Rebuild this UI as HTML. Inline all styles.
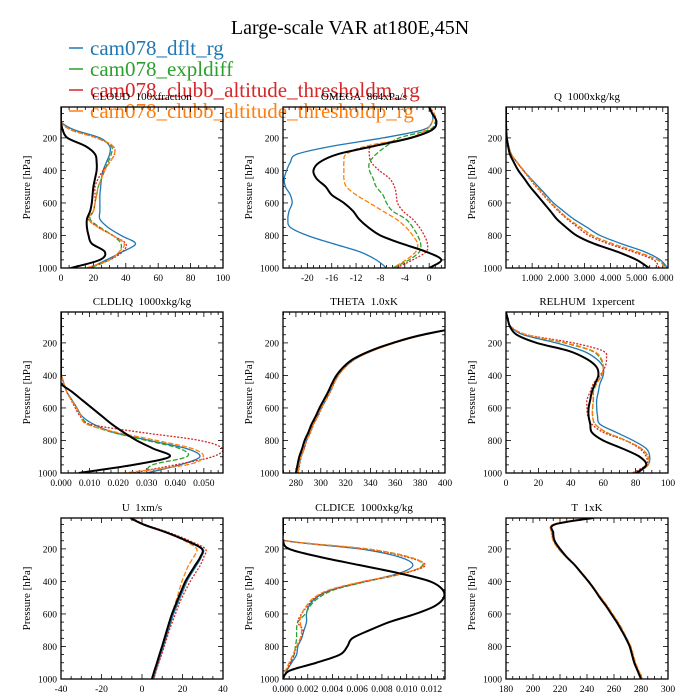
<!DOCTYPE html>
<html><head><meta charset="utf-8"><style>
body{margin:0;background:#fff;}
svg{display:block;font-family:"Liberation Serif",serif;}
</style></head><body>
<svg id="chart" width="700" height="700" viewBox="0 0 700 700">
<rect width="700" height="700" fill="#fff"/>
<text x="350" y="34" font-size="20" text-anchor="middle">Large-scale VAR at180E,45N</text>
<g id="legend"></g>
<g id="panels"></g>
</svg>
<script>
const levels = [10,50,100,150,200,250,300,350,400,450,500,550,600,650,700,750,800,850,900,950,1000];
const seriesNames = ["cam078_dflt_rg","cam078_expldiff","cam078_clubb_altitude_thresholdm_rg","cam078_clubb_altitude_thresholdp_rg"];

const cloudBlack=[0,0,0,1,4,15,21,22,22,21,20,19.5,19,18,16,16,17,19,27,24,6];
const cloudBlue=[0,0,0,8,24,30,30,28,26,25,24.5,24,24,24,24,29,37,46,38,28,18];
const cloudGreen=[0,0,0,6,22,31,31,29,27,25,23,22,21,20,18,24,32,37,36,30,18];
const cloudRed=[0,0,0,6,22,32,33,30,26,23,21,21,21,20,17,23,32,40,38,30,16];
const cloudOrange=[0,0,0,6,22,32,33,30,27,25,23,22,21,20,17,23,32,39,36,30,16];

const omegaBlack=[0,0.5,1.2,0.5,-3,-9,-15,-18,-19,-18.5,-17,-16,-14,-12.5,-11.5,-10,-8,-4.5,-0.5,2,0];
const omegaBlue=[0,0.5,0.5,-1,-7.6,-15.8,-21.7,-22.8,-23.4,-23.8,-23.6,-22.8,-22.5,-23,-23.2,-22.8,-20,-15.8,-11.4,-8.7,-7];
const omegaGreen=[0,0.8,1,0,-4.9,-7,-8.7,-9.8,-9.8,-9.2,-8.7,-7.6,-7,-6,-3.8,-2.7,-1.9,-1.4,-1.6,-3.3,-6];
const omegaRed=[0,0.8,1.1,0.5,-3.3,-9.2,-9.8,-9.5,-8.2,-6.5,-5.7,-5.4,-5.2,-4.3,-2.7,-1.6,-0.8,-0.3,-0.5,-2.7,-5.4];
const omegaOrange=[0,0.8,0.5,-0.5,-3.3,-10.3,-13.6,-14,-14,-14,-13.6,-12,-9.8,-7.6,-5.4,-3.8,-2.7,-1.9,-2.2,-3.8,-6];

const qBlack=[0,0,0,0.01,0.03,0.08,0.15,0.3,0.47,0.7,0.92,1.18,1.44,1.7,1.95,2.3,2.7,3.36,4.26,5.0,5.47];
const qBlue=[0,0,0,0.01,0.04,0.1,0.2,0.42,0.67,0.95,1.24,1.53,1.82,2.2,2.6,3.1,3.6,4.4,5.3,5.9,6.18];
const qGreen=[0,0,0,0.01,0.04,0.1,0.2,0.42,0.67,0.92,1.18,1.45,1.73,2.05,2.4,2.85,3.3,4.06,5.0,5.8,6.15];
const qRed=[0,0,0,0.01,0.04,0.1,0.2,0.42,0.66,0.9,1.15,1.42,1.7,2.0,2.35,2.75,3.17,3.9,4.85,5.65,5.86];
const qOrange=[0,0,0,0.01,0.04,0.1,0.2,0.43,0.68,0.93,1.18,1.45,1.73,2.05,2.4,2.85,3.3,4.06,5.0,5.8,6.1];

const liqBlack=[0,0,0,0,0,0,0,0,0,0,0.0038,0.0073,0.0108,0.0143,0.0178,0.0219,0.0265,0.0323,0.038,0.0253,0.0062];
const liqBlue=[0,0,0,0,0,0,0,0,0.0002,0.001,0.002,0.0038,0.0056,0.0073,0.0114,0.0184,0.031,0.044,0.0486,0.0416,0.03];
const liqGreen=[0,0,0,0,0,0,0,0,0.0002,0.001,0.002,0.0036,0.0055,0.007,0.0097,0.018,0.030,0.0416,0.044,0.032,0.030];
const liqRed=[0,0,0,0,0,0,0,0,0.0002,0.001,0.002,0.0035,0.005,0.0067,0.0102,0.028,0.0486,0.0565,0.053,0.040,0.025];
const liqOrange=[0,0,0,0,0,0,0,0,0.0002,0.001,0.002,0.0036,0.0054,0.007,0.009,0.0195,0.0335,0.046,0.0498,0.044,0.0219];

const thetaBlack=[600,500,420,382,358,339.5,326,318,312.6,309,306,302.5,299,296,292.6,290,287,285,282.7,281.3,280];
const thetaBlue=[600,500,421,383.5,359.5,341,327.5,319.5,314,310.5,307.5,304,300.5,297.5,294,291.5,288.5,286.5,284,282.7,281.5];
const thetaGreen=[600,500,421,383.5,359.5,341,327.5,319.5,314,310.5,307.5,304,300.5,297.5,294,291.5,288.5,286.5,284,282.7,281.5];
const thetaRed=[600,500,421,383.5,359.5,341,327.5,319.5,314.2,310.7,307.8,304.3,300.8,297.8,294.3,291.8,288.8,286.8,284.3,283,281.8];
const thetaOrange=[600,500,421,383.5,359.5,341,327.5,319.5,314,310.5,307.5,304,300.5,297.5,294,291.5,288.5,286.5,284,282.7,281.5];

const rhBlack=[0,1,2.5,6.6,19,39,50,56,57,55,53,52,51,51,52,53,60,72,82.5,86.6,80.5];
const rhBlue=[0,1,3,10.7,31,47.6,56,60,60,58,57,56,56,56.5,58,68,78.4,86.6,88.7,87.7,81.5];
const rhGreen=[0,1,3,12.5,36,53,58.5,60,59,56,54,54,53.5,53.5,55,62,74,83.6,87.7,87.7,80.5];
const rhRed=[0,1,3,13,41.5,60,62,61,58,54,52,50,50,50.5,53,60,73.5,82.5,86.6,86.6,78];
const rhOrange=[0,1,3,12.7,37,53.8,59,60,59,56,53.8,53.8,53.4,53.4,55,62,74,83.6,87.7,87.7,80.5];

const uBlack=[-5.8,0.8,12.3,22,29.6,28.8,26.3,23.8,21.4,19.7,18,16.4,14.8,13.5,12.3,11.1,9.9,8.6,7.4,6.1,4.9];
const uBlue=[-5.5,1,12.5,22.3,30,29.3,27,24.5,22.2,20.5,18.8,17.2,15.6,14.3,13,11.8,10.6,9.3,8.1,6.8,5.8];
const uGreen=[-5,1.2,12.6,22.5,30,29,26.5,24,21.7,20,18.3,16.7,15.1,13.8,12.5,11.3,10.1,8.8,7.6,6.3,5.1];
const uRed=[-5,1.5,13.5,23.5,31.3,30.5,28.8,26.3,23.8,21.7,19.7,18,16.5,15,13.5,12.3,11,9.7,8.3,7,5.8];
const uOrange=[-5,1,12,21,27,25.5,23,21.3,19.7,18.5,17.3,16,14.8,13.5,12.3,11.1,9.9,8.6,7.4,6.1,4.9];

const iceBlack=[0,0,0,0,0.0005,0.003,0.0062,0.0094,0.0119,0.0129,0.013,0.0123,0.0107,0.0086,0.007,0.0056,0.0052,0.0046,0.0027,0.0005,0];
const iceBlue=[0,0,0,0.0002,0.0062,0.0094,0.0105,0.0094,0.0067,0.004,0.0027,0.0021,0.0019,0.0019,0.0017,0.0015,0.0012,0.0011,0.0007,0.0003,0];
const iceGreen=[0,0,0,0.0003,0.0068,0.0102,0.0113,0.0098,0.0068,0.0042,0.0029,0.0022,0.0018,0.0012,0.0011,0.0011,0.001,0.0009,0.0006,0.0003,0];
const iceRed=[0,0,0,0.0003,0.0065,0.01,0.0115,0.0098,0.0066,0.004,0.0026,0.002,0.0015,0.0012,0.0016,0.0014,0.0011,0.0009,0.0006,0.0003,0];
const iceOrange=[0,0,0,0.0003,0.0067,0.0102,0.0114,0.0097,0.0065,0.0038,0.0025,0.0019,0.0015,0.0014,0.0015,0.0014,0.0011,0.0008,0.0005,0.0002,0];

const tBlack=[244.5,216,215,216,220,225,231,236,241,245.5,249.5,254,258,262,265.5,268.8,271.6,273.3,275,277.5,280];
const tBlue=[242,215.5,214.3,215.5,219.3,224.7,231,236.3,241.3,245.8,250,254.5,258.5,262.5,266,269.2,272,273.8,275.5,278,280.5];
const tGreen=[241,215.3,214,215.3,219,224.6,231,236.4,241.4,245.9,250.2,254.7,258.7,262.7,266.2,269.3,272.2,274,275.7,278.2,280.7];
const tRed=[241,215.3,214,215.3,219,224.6,231,236.4,241.4,245.9,250.2,254.7,258.7,262.7,266.2,269.3,272.2,274,275.7,278.2,280.7];
const tOrange=[240,215,213.7,215,218.7,224.5,231,236.5,241.5,246,250.5,255,259,263,266.5,269.5,272.5,274.3,276,278.5,281];

const cloudTicks=[0,20,40,60,80,100];
const omegaTicks=[-20,-16,-12,-8,-4,0];
const qTicks=[1,2,3,4,5,6];
const liqTicks=[0,0.01,0.02,0.03,0.04,0.05];
const thetaTicks=[280,300,320,340,360,380,400];
const rhTicks=[0,20,40,60,80,100];
const uTicks=[-40,-20,0,20,40];
const iceTicks=[0,0.002,0.004,0.006,0.008,0.01,0.012];
const tTicks=[180,200,220,240,260,280,300];
const pTicks=[200,400,600,800,1000];

const colors=["#1f77b4","#2ca02c","#d62728","#ff7f0e"];
const dashes=["", "5,2", "2,1.5", "5,2"];
const NS="http://www.w3.org/2000/svg";
const svg=document.getElementById('chart');
const panelsG=document.getElementById('panels');
const legendG=document.getElementById('legend');

function mk(tag,attrs,parent){const e=document.createElementNS(NS,tag);for(const k in attrs)e.setAttribute(k,attrs[k]);(parent||svg).appendChild(e);return e;}

const legendY=[48,69,90,111];
seriesNames.forEach((n,i)=>{
  const ln=mk('line',{x1:69,x2:83,y1:legendY[i],y2:legendY[i],stroke:colors[i],'stroke-width':1.5},legendG);
  
  
  const t=mk('text',{x:90,y:legendY[i]+7,'font-size':21,fill:colors[i]},legendG);
  t.textContent=n;
  
  
});

const cols=[61,283,506], rows=[107,312,518], W=162, H=161;
const S='\u00a0 ';
const panels=[
 {name:'cloud',title:'CLOUD'+S+'100xfraction',c:0,r:0,xmin:0,xmax:100,ticks:cloudTicks,fmt:v=>String(v),minor:5,data:[cloudBlack,cloudBlue,cloudGreen,cloudRed,cloudOrange]},
 {name:'omega',title:'OMEGA'+S+'864xPa/s',c:1,r:0,xmin:-24,xmax:2.6,ticks:omegaTicks,fmt:v=>String(v),minor:1,data:[omegaBlack,omegaBlue,omegaGreen,omegaRed,omegaOrange]},
 {name:'q',title:'Q'+S+'1000xkg/kg',c:2,r:0,xmin:0,xmax:6.2,ticks:qTicks,fmt:v=>v.toFixed(3),minor:0.25,data:[qBlack,qBlue,qGreen,qRed,qOrange]},
 {name:'cldliq',title:'CLDLIQ'+S+'1000xkg/kg',c:0,r:1,xmin:0,xmax:0.0567,ticks:liqTicks,fmt:v=>v.toFixed(3),minor:0.0025,data:[liqBlack,liqBlue,liqGreen,liqRed,liqOrange]},
 {name:'theta',title:'THETA'+S+'1.0xK',c:1,r:1,xmin:269.6,xmax:400,ticks:thetaTicks,fmt:v=>String(v),minor:5,data:[thetaBlack,thetaBlue,thetaGreen,thetaRed,thetaOrange]},
 {name:'relhum',title:'RELHUM'+S+'1xpercent',c:2,r:1,xmin:0,xmax:100,ticks:rhTicks,fmt:v=>String(v),minor:5,data:[rhBlack,rhBlue,rhGreen,rhRed,rhOrange]},
 {name:'u',title:'U'+S+'1xm/s',c:0,r:2,xmin:-40,xmax:40,ticks:uTicks,fmt:v=>String(v),minor:5,data:[uBlack,uBlue,uGreen,uRed,uOrange]},
 {name:'cldice',title:'CLDICE'+S+'1000xkg/kg',c:1,r:2,xmin:0,xmax:0.0131,ticks:iceTicks,fmt:v=>v.toFixed(3),minor:0.0005,data:[iceBlack,iceBlue,iceGreen,iceRed,iceOrange]},
 {name:'t',title:'T'+S+'1xK',c:2,r:2,xmin:180,xmax:300,ticks:tTicks,fmt:v=>String(v),minor:5,data:[tBlack,tBlue,tGreen,tRed,tOrange]},
];

function smoothPath(pts){
  let d='M'+pts[0][0].toFixed(2)+','+pts[0][1].toFixed(2);
  for(let i=0;i<pts.length-1;i++){
    const p0=pts[i-1]||pts[i],p1=pts[i],p2=pts[i+1],p3=pts[i+2]||p2;
    const c1=[p1[0]+(p2[0]-p0[0])/6,p1[1]+(p2[1]-p0[1])/6];
    const c2=[p2[0]-(p3[0]-p1[0])/6,p2[1]-(p3[1]-p1[1])/6];
    d+='C'+c1[0].toFixed(2)+','+c1[1].toFixed(2)+' '+c2[0].toFixed(2)+','+c2[1].toFixed(2)+' '+p2[0].toFixed(2)+','+p2[1].toFixed(2);
  }
  return d;
}

panels.forEach((P,pi)=>{
  const x0=cols[P.c], y0=rows[P.r];
  const g=mk('g',{},panelsG);
  
  
  const xs=v=>x0+(v-P.xmin)/(P.xmax-P.xmin)*W;
  const ys=p=>y0+(p-10)/(1000-10)*H;
  const clip=mk('clipPath',{id:'clip'+pi},g);
  mk('rect',{x:x0,y:y0,width:W,height:H},clip);
  const tt=mk('text',{x:x0+W/2,y:y0-7,'font-size':11,'text-anchor':'middle'},g);
  tt.textContent=P.title;
  
  
  const yl=mk('text',{x:0,y:0,'font-size':11,'text-anchor':'middle',transform:`translate(${x0-31},${y0+H/2}) rotate(-90)`},g);
  yl.textContent='Pressure [hPa]';
  
  
  for(let p=50;p<=1000;p+=50){
    const y=ys(p), L=(p%200===0)?5:3;
    mk('line',{x1:x0,x2:x0+L,y1:y,y2:y,stroke:'#000','stroke-width':0.8},g);
    mk('line',{x1:x0+W,x2:x0+W-L,y1:y,y2:y,stroke:'#000','stroke-width':0.8},g);
  }
  pTicks.forEach(p=>{
    const t=mk('text',{x:x0-4,y:ys(p)+3.5,'font-size':9.5,'text-anchor':'end'},g);
    t.textContent=String(p);
    
    
  });
  const start=Math.ceil(P.xmin/P.minor-1e-6);
  for(let k=start;k*P.minor<=P.xmax+1e-9;k++){
    const v=k*P.minor, x=xs(v);
    const isMajor=P.ticks.some(t=>Math.abs(t-v)<P.minor*1e-3);
    const L=isMajor?5:3;
    mk('line',{x1:x,x2:x,y1:y0+H,y2:y0+H-L,stroke:'#000','stroke-width':0.8},g);
    mk('line',{x1:x,x2:x,y1:y0,y2:y0+L,stroke:'#000','stroke-width':0.8},g);
  }
  P.ticks.forEach(v=>{
    const t=mk('text',{x:xs(v),y:y0+H+13,'font-size':9.5,'text-anchor':'middle'},g);
    t.textContent=P.fmt(v);
    
    
  });
  const order=[1,2,3,4,0];
  order.forEach(si=>{
    const arr=P.data[si];
    const pts=levels.map((p,i)=>[xs(arr[i]),ys(p)]);
    const col=si===0?'#000':colors[si-1];
    const path=mk('path',{d:smoothPath(pts),fill:'none',stroke:col,'stroke-width':si===0?2:1.3,'clip-path':`url(#clip${pi})`,'stroke-linejoin':'round'},g);
    if(si>0&&dashes[si-1])path.setAttribute('stroke-dasharray',dashes[si-1]);
    
    
  });
  const fr=mk('rect',{x:x0,y:y0,width:W,height:H,fill:'none',stroke:'#000','stroke-width':1.3},g);
  
  
});
</script>
</body></html>
